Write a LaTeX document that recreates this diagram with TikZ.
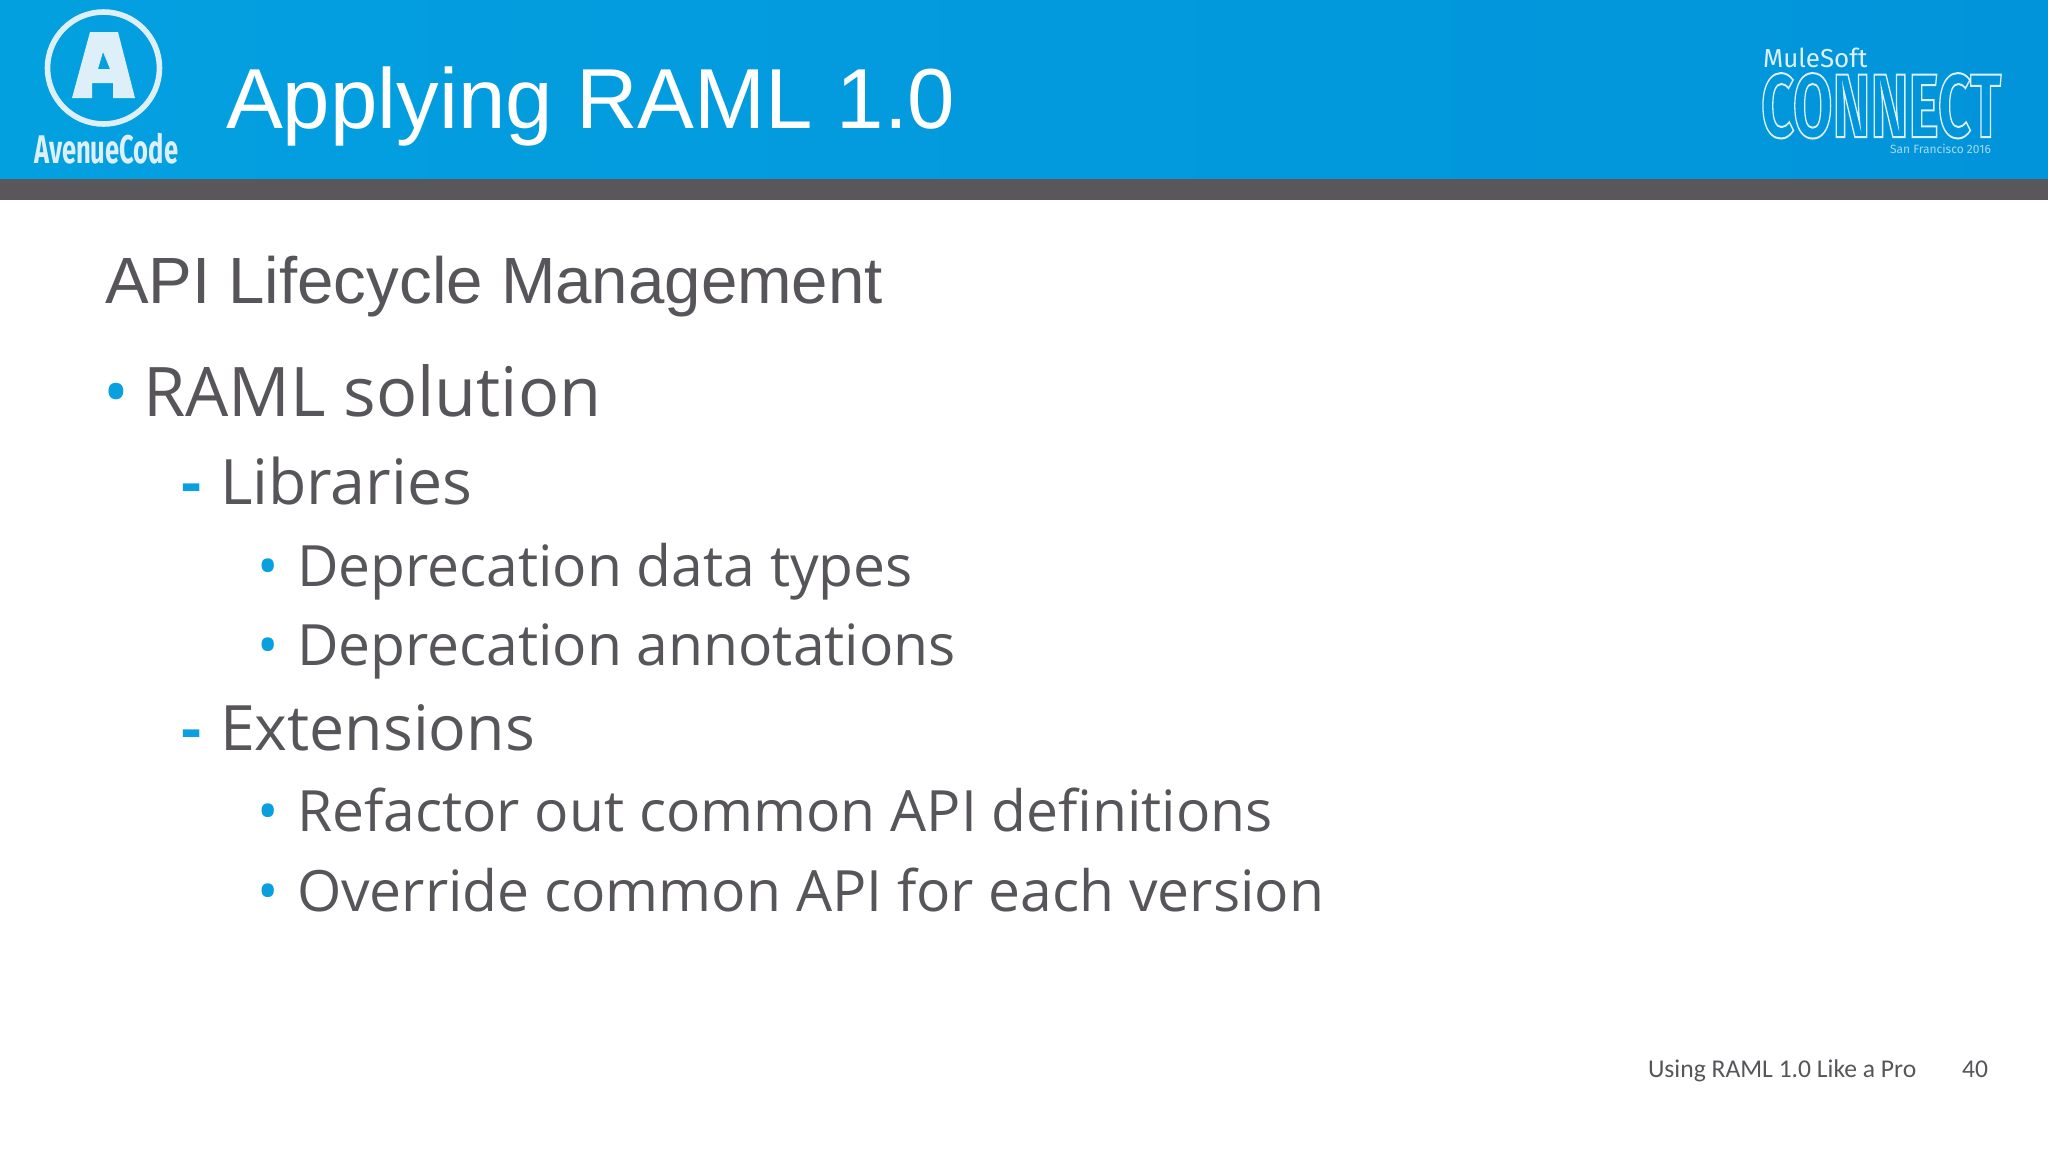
\documentclass[tikz,border=0pt]{standalone}
\usepackage{fontspec}
\usepackage{graphicx}
\setmainfont{Open Sans}
\newfontfamily\titlefont{Liberation Sans}
\newfontfamily\footfont{Carlito}
\newfontfamily\narrowfont{Fira Sans}
\definecolor{hdrL}{HTML}{03A0E0}
\definecolor{hdrR}{HTML}{0294DA}
\definecolor{barc}{HTML}{59575B}
\definecolor{bodyc}{HTML}{575559}
\definecolor{bul}{HTML}{0AA0E0}
\definecolor{logoc}{HTML}{DDF0F9}
\tikzset{
  x=0.5pt,y=-0.5pt,
  txt/.style={anchor=base west,inner sep=0pt,outer sep=0pt},
  lv1/.style={txt,text=bodyc,font=\fontsize{34.2}{36}\selectfont},
  lv2/.style={txt,text=bodyc,font=\fontsize{31.3}{34}\selectfont},
  lv3/.style={txt,text=bodyc,font=\fontsize{28.48}{30}\selectfont},
  mark1/.style={txt,text=bul,font=\fontsize{34.2}{36}\selectfont},
  mark2/.style={txt,text=bul,font=\fontsize{31.3}{34}\selectfont\bfseries},
  mark3/.style={txt,text=bul,font=\fontsize{28.48}{30}\selectfont},
}
\begin{document}
\begin{tikzpicture}
\useasboundingbox (0,0) rectangle (2048,1152);
\fill[white] (0,0) rectangle (2048,1152);
\fill[left color=hdrL,right color=hdrR] (0,0) rectangle (2048,179);
\fill[barc] (0,179) rectangle (2048,200);
% logo
\draw[logoc,line width=2.8pt] (103.5,68) circle (56);
\fill[logoc,even odd rule] (90,32) -- (118,32) -- (135,98) -- (113,98) -- (113,83) -- (92,83) -- (92,98) -- (72,98) -- cycle
 (103,52) -- (98,69) -- (110,69) -- cycle;
\node[txt,text=logoc] (avenue) at (34,163) {\scalebox{.64}[1]{\narrowfont\bfseries\fontsize{20}{20}\selectfont AvenueCode}};
\node[txt,text=white] (title) at (226,128) {\titlefont\fontsize{42.6}{46}\selectfont Applying RAML 1.0};
% connect logo
\node[txt,text=logoc] (mule) at (1763,67) {\narrowfont\fontsize{13}{14}\selectfont MuleSoft};
\node[txt,text=logoc] (connect) at (1761,137) {\scalebox{.637}[1]{\special{pdf:code q 1 Tr 1 w 0.8667 0.9412 0.9765 RG}\narrowfont\bfseries\fontsize{45}{45}\selectfont CONNECT\special{pdf:code 0 Tr Q}}};
\node[txt,text=logoc!75!hdrR] (sf) at (1890,153) {\narrowfont\fontsize{6}{6}\selectfont San Francisco 2016};
\node[txt,text=bodyc] (sub) at (105,303) {\titlefont\fontsize{32.7}{36}\selectfont API Lifecycle Management};
\node[mark1] (b1) at (103,416) {•};
\node[lv1] (t1) at (143,416) {RAML solution};
\node[mark2] (b2) at (181,504) {-};
\node[lv2] (t2) at (220,504) {Libraries};
\node[mark3] (b3) at (257,586) {•};
\node[lv3] (t3) at (297,586) {Deprecation data types};
\node[mark3] (b4) at (257,665.5) {•};
\node[lv3] (t4) at (297,665.5) {Deprecation annotations};
\node[mark2] (b5) at (181,750) {-};
\node[lv2] (t5) at (220,750) {Extensions};
\node[mark3] (b6) at (257,831.5) {•};
\node[lv3] (t6) at (297,831.5) {Refactor out common API definitions};
\node[mark3] (b7) at (257,911) {•};
\node[lv3] (t7) at (297,911) {Override common API for each version};
\node[txt,text=bodyc] (foot) at (1648,1077) {\footfont\fontsize{12.8}{14}\selectfont Using RAML 1.0 Like a Pro};
\node[txt,text=bodyc] (num) at (1962,1077) {\footfont\fontsize{12.8}{14}\selectfont 40};
\end{tikzpicture}
\end{document}
